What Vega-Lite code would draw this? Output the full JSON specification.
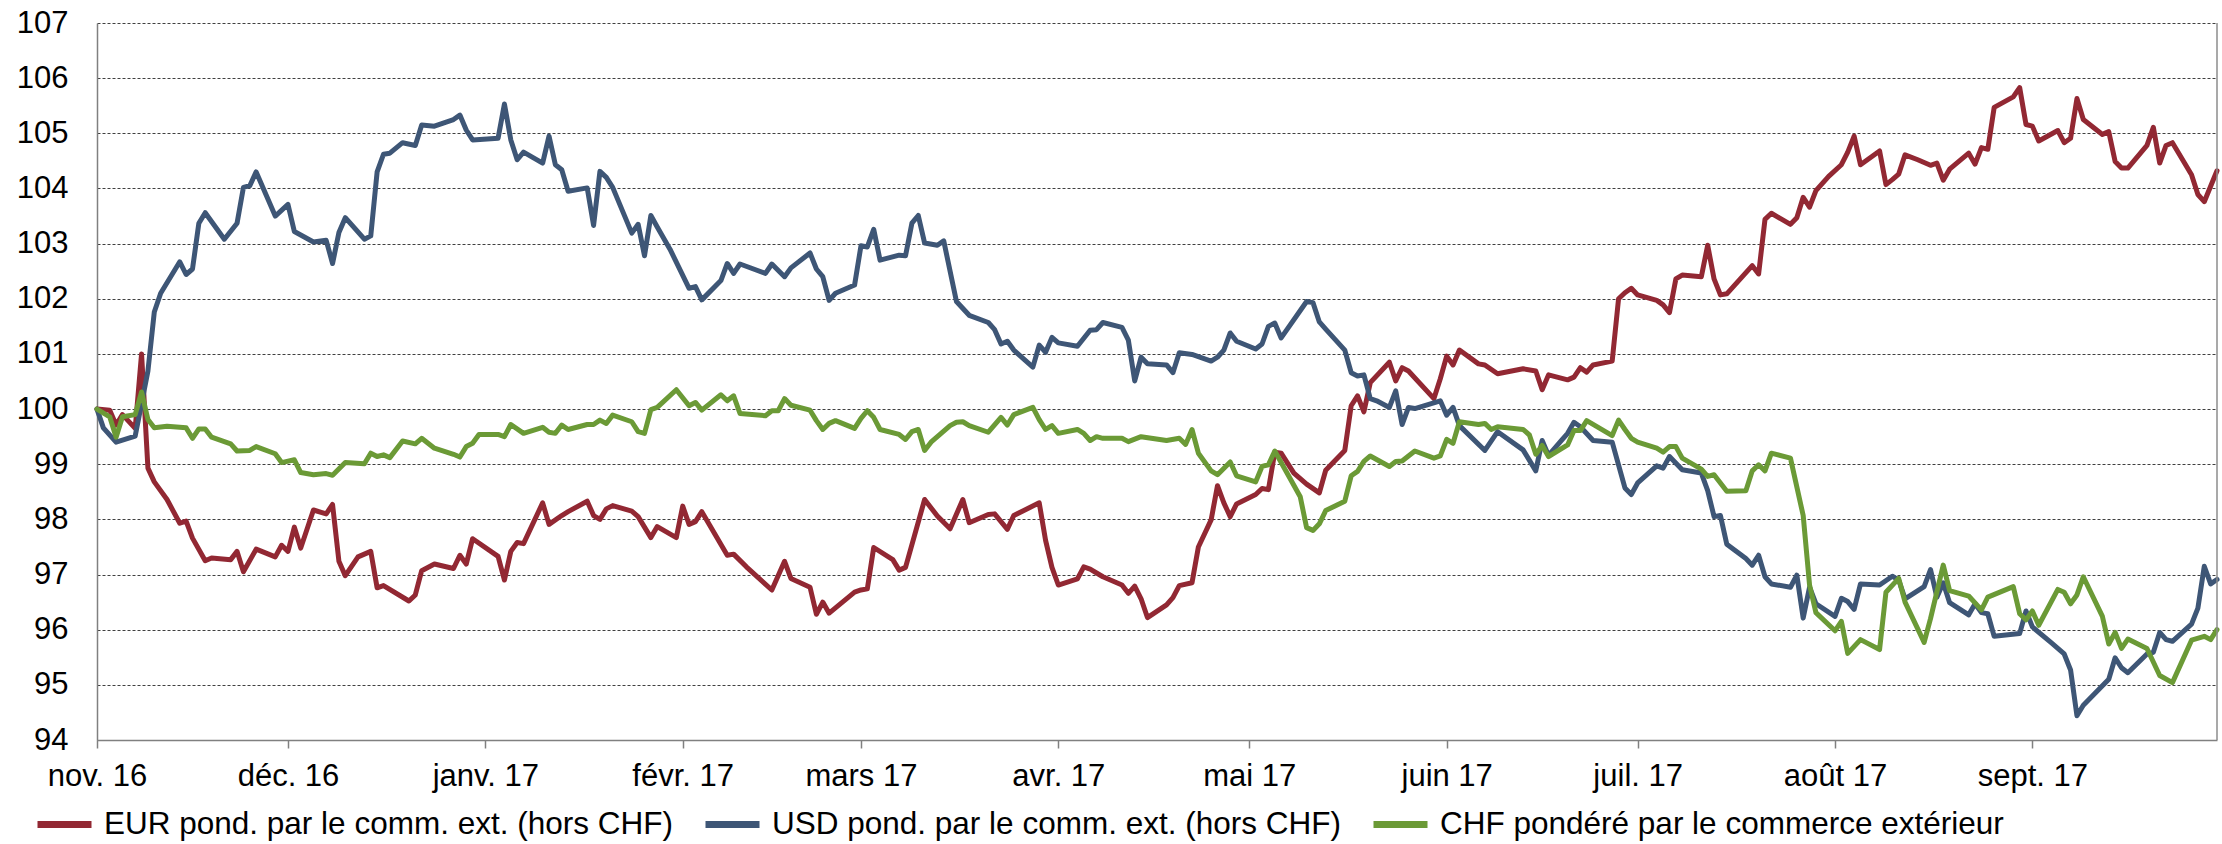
{
"$schema":"https://vega.github.io/schema/vega-lite/v6.json",
"width":2120,"height":717,
"autosize":{"type":"none"},
"padding":{"left":97,"top":23,"right":5,"bottom":104},
"background":"white",
"config":{"view":{"stroke":null},"font":"Liberation Sans"},
"datasets":{"series":[
{"d":"2016-11-01","s":"EUR","v":100},{"d":"2016-11-03","s":"EUR","v":99.98},{"d":"2016-11-04","s":"EUR","v":99.71},{"d":"2016-11-05","s":"EUR","v":99.9},{"d":"2016-11-07","s":"EUR","v":99.65},{"d":"2016-11-08","s":"EUR","v":101.0},{"d":"2016-11-09","s":"EUR","v":98.93},{"d":"2016-11-10","s":"EUR","v":98.68},{"d":"2016-11-12","s":"EUR","v":98.36},{"d":"2016-11-14","s":"EUR","v":97.93},{"d":"2016-11-15","s":"EUR","v":97.97},{"d":"2016-11-16","s":"EUR","v":97.66},{"d":"2016-11-18","s":"EUR","v":97.25},{"d":"2016-11-19","s":"EUR","v":97.3},{"d":"2016-11-22","s":"EUR","v":97.27},{"d":"2016-11-23","s":"EUR","v":97.42},{"d":"2016-11-24","s":"EUR","v":97.05},{"d":"2016-11-26","s":"EUR","v":97.46},{"d":"2016-11-29","s":"EUR","v":97.32},{"d":"2016-11-30","s":"EUR","v":97.53},{"d":"2016-12-01","s":"EUR","v":97.42},{"d":"2016-12-02","s":"EUR","v":97.86},{"d":"2016-12-03","s":"EUR","v":97.48},{"d":"2016-12-05","s":"EUR","v":98.17},{"d":"2016-12-07","s":"EUR","v":98.1},{"d":"2016-12-08","s":"EUR","v":98.27},{"d":"2016-12-09","s":"EUR","v":97.24},{"d":"2016-12-10","s":"EUR","v":96.98},{"d":"2016-12-12","s":"EUR","v":97.32},{"d":"2016-12-14","s":"EUR","v":97.42},{"d":"2016-12-15","s":"EUR","v":96.76},{"d":"2016-12-16","s":"EUR","v":96.8},{"d":"2016-12-20","s":"EUR","v":96.52},{"d":"2016-12-21","s":"EUR","v":96.63},{"d":"2016-12-22","s":"EUR","v":97.07},{"d":"2016-12-24","s":"EUR","v":97.19},{"d":"2016-12-27","s":"EUR","v":97.11},{"d":"2016-12-28","s":"EUR","v":97.35},{"d":"2016-12-29","s":"EUR","v":97.19},{"d":"2016-12-30","s":"EUR","v":97.65},{"d":"2017-01-03","s":"EUR","v":97.33},{"d":"2017-01-04","s":"EUR","v":96.9},{"d":"2017-01-05","s":"EUR","v":97.42},{"d":"2017-01-06","s":"EUR","v":97.58},{"d":"2017-01-07","s":"EUR","v":97.56},{"d":"2017-01-10","s":"EUR","v":98.3},{"d":"2017-01-11","s":"EUR","v":97.91},{"d":"2017-01-13","s":"EUR","v":98.07},{"d":"2017-01-14","s":"EUR","v":98.14},{"d":"2017-01-17","s":"EUR","v":98.33},{"d":"2017-01-18","s":"EUR","v":98.07},{"d":"2017-01-19","s":"EUR","v":98.0},{"d":"2017-01-20","s":"EUR","v":98.19},{"d":"2017-01-21","s":"EUR","v":98.25},{"d":"2017-01-24","s":"EUR","v":98.15},{"d":"2017-01-25","s":"EUR","v":98.05},{"d":"2017-01-27","s":"EUR","v":97.67},{"d":"2017-01-28","s":"EUR","v":97.87},{"d":"2017-01-31","s":"EUR","v":97.67},{"d":"2017-02-01","s":"EUR","v":98.24},{"d":"2017-02-02","s":"EUR","v":97.91},{"d":"2017-02-03","s":"EUR","v":97.96},{"d":"2017-02-04","s":"EUR","v":98.14},{"d":"2017-02-08","s":"EUR","v":97.35},{"d":"2017-02-09","s":"EUR","v":97.37},{"d":"2017-02-11","s":"EUR","v":97.14},{"d":"2017-02-15","s":"EUR","v":96.72},{"d":"2017-02-17","s":"EUR","v":97.24},{"d":"2017-02-18","s":"EUR","v":96.93},{"d":"2017-02-21","s":"EUR","v":96.77},{"d":"2017-02-22","s":"EUR","v":96.28},{"d":"2017-02-23","s":"EUR","v":96.5},{"d":"2017-02-24","s":"EUR","v":96.3},{"d":"2017-02-28","s":"EUR","v":96.68},{"d":"2017-03-01","s":"EUR","v":96.72},{"d":"2017-03-02","s":"EUR","v":96.74},{"d":"2017-03-03","s":"EUR","v":97.49},{"d":"2017-03-06","s":"EUR","v":97.27},{"d":"2017-03-07","s":"EUR","v":97.08},{"d":"2017-03-08","s":"EUR","v":97.13},{"d":"2017-03-11","s":"EUR","v":98.36},{"d":"2017-03-13","s":"EUR","v":98.06},{"d":"2017-03-15","s":"EUR","v":97.83},{"d":"2017-03-17","s":"EUR","v":98.36},{"d":"2017-03-18","s":"EUR","v":97.94},{"d":"2017-03-21","s":"EUR","v":98.09},{"d":"2017-03-22","s":"EUR","v":98.1},{"d":"2017-03-24","s":"EUR","v":97.82},{"d":"2017-03-25","s":"EUR","v":98.07},{"d":"2017-03-29","s":"EUR","v":98.3},{"d":"2017-03-30","s":"EUR","v":97.62},{"d":"2017-03-31","s":"EUR","v":97.13},{"d":"2017-04-01","s":"EUR","v":96.81},{"d":"2017-04-04","s":"EUR","v":96.92},{"d":"2017-04-05","s":"EUR","v":97.14},{"d":"2017-04-06","s":"EUR","v":97.1},{"d":"2017-04-08","s":"EUR","v":96.96},{"d":"2017-04-11","s":"EUR","v":96.81},{"d":"2017-04-12","s":"EUR","v":96.66},{"d":"2017-04-13","s":"EUR","v":96.79},{"d":"2017-04-14","s":"EUR","v":96.56},{"d":"2017-04-15","s":"EUR","v":96.22},{"d":"2017-04-18","s":"EUR","v":96.45},{"d":"2017-04-19","s":"EUR","v":96.58},{"d":"2017-04-20","s":"EUR","v":96.8},{"d":"2017-04-22","s":"EUR","v":96.85},{"d":"2017-04-23","s":"EUR","v":97.5},{"d":"2017-04-25","s":"EUR","v":97.99},{"d":"2017-04-26","s":"EUR","v":98.61},{"d":"2017-04-27","s":"EUR","v":98.3},{"d":"2017-04-28","s":"EUR","v":98.05},{"d":"2017-04-29","s":"EUR","v":98.28},{"d":"2017-05-02","s":"EUR","v":98.45},{"d":"2017-05-03","s":"EUR","v":98.56},{"d":"2017-05-04","s":"EUR","v":98.54},{"d":"2017-05-05","s":"EUR","v":99.22},{"d":"2017-05-06","s":"EUR","v":99.2},{"d":"2017-05-08","s":"EUR","v":98.84},{"d":"2017-05-10","s":"EUR","v":98.64},{"d":"2017-05-12","s":"EUR","v":98.48},{"d":"2017-05-13","s":"EUR","v":98.89},{"d":"2017-05-16","s":"EUR","v":99.25},{"d":"2017-05-17","s":"EUR","v":100.06},{"d":"2017-05-18","s":"EUR","v":100.24},{"d":"2017-05-19","s":"EUR","v":99.95},{"d":"2017-05-20","s":"EUR","v":100.48},{"d":"2017-05-23","s":"EUR","v":100.85},{"d":"2017-05-24","s":"EUR","v":100.51},{"d":"2017-05-25","s":"EUR","v":100.75},{"d":"2017-05-26","s":"EUR","v":100.69},{"d":"2017-05-30","s":"EUR","v":100.19},{"d":"2017-05-31","s":"EUR","v":100.55},{"d":"2017-06-01","s":"EUR","v":100.96},{"d":"2017-06-02","s":"EUR","v":100.8},{"d":"2017-06-03","s":"EUR","v":101.07},{"d":"2017-06-06","s":"EUR","v":100.82},{"d":"2017-06-07","s":"EUR","v":100.8},{"d":"2017-06-09","s":"EUR","v":100.64},{"d":"2017-06-13","s":"EUR","v":100.73},{"d":"2017-06-15","s":"EUR","v":100.69},{"d":"2017-06-16","s":"EUR","v":100.35},{"d":"2017-06-17","s":"EUR","v":100.62},{"d":"2017-06-20","s":"EUR","v":100.53},{"d":"2017-06-21","s":"EUR","v":100.58},{"d":"2017-06-22","s":"EUR","v":100.75},{"d":"2017-06-23","s":"EUR","v":100.67},{"d":"2017-06-24","s":"EUR","v":100.8},{"d":"2017-06-27","s":"EUR","v":100.87},{"d":"2017-06-28","s":"EUR","v":102.0},{"d":"2017-06-29","s":"EUR","v":102.11},{"d":"2017-06-30","s":"EUR","v":102.19},{"d":"2017-07-01","s":"EUR","v":102.07},{"d":"2017-07-04","s":"EUR","v":101.97},{"d":"2017-07-05","s":"EUR","v":101.89},{"d":"2017-07-06","s":"EUR","v":101.75},{"d":"2017-07-07","s":"EUR","v":102.36},{"d":"2017-07-08","s":"EUR","v":102.43},{"d":"2017-07-11","s":"EUR","v":102.4},{"d":"2017-07-12","s":"EUR","v":102.97},{"d":"2017-07-13","s":"EUR","v":102.36},{"d":"2017-07-14","s":"EUR","v":102.07},{"d":"2017-07-15","s":"EUR","v":102.09},{"d":"2017-07-19","s":"EUR","v":102.6},{"d":"2017-07-20","s":"EUR","v":102.45},{"d":"2017-07-21","s":"EUR","v":103.44},{"d":"2017-07-22","s":"EUR","v":103.55},{"d":"2017-07-25","s":"EUR","v":103.35},{"d":"2017-07-26","s":"EUR","v":103.47},{"d":"2017-07-27","s":"EUR","v":103.84},{"d":"2017-07-28","s":"EUR","v":103.66},{"d":"2017-07-29","s":"EUR","v":103.96},{"d":"2017-07-31","s":"EUR","v":104.22},{"d":"2017-08-02","s":"EUR","v":104.43},{"d":"2017-08-03","s":"EUR","v":104.66},{"d":"2017-08-04","s":"EUR","v":104.95},{"d":"2017-08-05","s":"EUR","v":104.43},{"d":"2017-08-08","s":"EUR","v":104.68},{"d":"2017-08-09","s":"EUR","v":104.07},{"d":"2017-08-10","s":"EUR","v":104.16},{"d":"2017-08-11","s":"EUR","v":104.26},{"d":"2017-08-12","s":"EUR","v":104.61},{"d":"2017-08-14","s":"EUR","v":104.52},{"d":"2017-08-16","s":"EUR","v":104.42},{"d":"2017-08-17","s":"EUR","v":104.46},{"d":"2017-08-18","s":"EUR","v":104.15},{"d":"2017-08-19","s":"EUR","v":104.35},{"d":"2017-08-22","s":"EUR","v":104.64},{"d":"2017-08-23","s":"EUR","v":104.44},{"d":"2017-08-24","s":"EUR","v":104.74},{"d":"2017-08-25","s":"EUR","v":104.71},{"d":"2017-08-26","s":"EUR","v":105.47},{"d":"2017-08-29","s":"EUR","v":105.66},{"d":"2017-08-30","s":"EUR","v":105.83},{"d":"2017-08-31","s":"EUR","v":105.16},{"d":"2017-09-01","s":"EUR","v":105.13},{"d":"2017-09-02","s":"EUR","v":104.86},{"d":"2017-09-05","s":"EUR","v":105.05},{"d":"2017-09-06","s":"EUR","v":104.83},{"d":"2017-09-07","s":"EUR","v":104.91},{"d":"2017-09-08","s":"EUR","v":105.63},{"d":"2017-09-09","s":"EUR","v":105.25},{"d":"2017-09-12","s":"EUR","v":104.98},{"d":"2017-09-13","s":"EUR","v":105.03},{"d":"2017-09-14","s":"EUR","v":104.49},{"d":"2017-09-15","s":"EUR","v":104.37},{"d":"2017-09-16","s":"EUR","v":104.37},{"d":"2017-09-19","s":"EUR","v":104.78},{"d":"2017-09-20","s":"EUR","v":105.11},{"d":"2017-09-21","s":"EUR","v":104.46},{"d":"2017-09-22","s":"EUR","v":104.78},{"d":"2017-09-23","s":"EUR","v":104.83},{"d":"2017-09-26","s":"EUR","v":104.25},{"d":"2017-09-27","s":"EUR","v":103.89},{"d":"2017-09-28","s":"EUR","v":103.76},{"d":"2017-09-30","s":"EUR","v":104.32},
{"d":"2016-11-01","s":"USD","v":100},{"d":"2016-11-02","s":"USD","v":99.66},{"d":"2016-11-04","s":"USD","v":99.4},{"d":"2016-11-07","s":"USD","v":99.51},{"d":"2016-11-08","s":"USD","v":100.1},{"d":"2016-11-09","s":"USD","v":100.69},{"d":"2016-11-10","s":"USD","v":101.76},{"d":"2016-11-11","s":"USD","v":102.1},{"d":"2016-11-14","s":"USD","v":102.67},{"d":"2016-11-15","s":"USD","v":102.44},{"d":"2016-11-16","s":"USD","v":102.54},{"d":"2016-11-17","s":"USD","v":103.37},{"d":"2016-11-18","s":"USD","v":103.56},{"d":"2016-11-21","s":"USD","v":103.08},{"d":"2016-11-23","s":"USD","v":103.37},{"d":"2016-11-24","s":"USD","v":104.02},{"d":"2016-11-25","s":"USD","v":104.05},{"d":"2016-11-26","s":"USD","v":104.3},{"d":"2016-11-29","s":"USD","v":103.5},{"d":"2016-12-01","s":"USD","v":103.71},{"d":"2016-12-02","s":"USD","v":103.22},{"d":"2016-12-05","s":"USD","v":103.03},{"d":"2016-12-07","s":"USD","v":103.06},{"d":"2016-12-08","s":"USD","v":102.64},{"d":"2016-12-09","s":"USD","v":103.2},{"d":"2016-12-10","s":"USD","v":103.47},{"d":"2016-12-13","s":"USD","v":103.08},{"d":"2016-12-14","s":"USD","v":103.14},{"d":"2016-12-15","s":"USD","v":104.3},{"d":"2016-12-16","s":"USD","v":104.62},{"d":"2016-12-17","s":"USD","v":104.64},{"d":"2016-12-19","s":"USD","v":104.83},{"d":"2016-12-21","s":"USD","v":104.78},{"d":"2016-12-22","s":"USD","v":105.15},{"d":"2016-12-24","s":"USD","v":105.13},{"d":"2016-12-27","s":"USD","v":105.25},{"d":"2016-12-28","s":"USD","v":105.33},{"d":"2016-12-29","s":"USD","v":105.06},{"d":"2016-12-30","s":"USD","v":104.88},{"d":"2017-01-03","s":"USD","v":104.91},{"d":"2017-01-04","s":"USD","v":105.53},{"d":"2017-01-05","s":"USD","v":104.88},{"d":"2017-01-06","s":"USD","v":104.52},{"d":"2017-01-07","s":"USD","v":104.66},{"d":"2017-01-10","s":"USD","v":104.46},{"d":"2017-01-11","s":"USD","v":104.95},{"d":"2017-01-12","s":"USD","v":104.43},{"d":"2017-01-13","s":"USD","v":104.34},{"d":"2017-01-14","s":"USD","v":103.95},{"d":"2017-01-17","s":"USD","v":104.01},{"d":"2017-01-18","s":"USD","v":103.33},{"d":"2017-01-19","s":"USD","v":104.31},{"d":"2017-01-20","s":"USD","v":104.2},{"d":"2017-01-21","s":"USD","v":104.02},{"d":"2017-01-24","s":"USD","v":103.19},{"d":"2017-01-25","s":"USD","v":103.35},{"d":"2017-01-26","s":"USD","v":102.78},{"d":"2017-01-27","s":"USD","v":103.51},{"d":"2017-01-28","s":"USD","v":103.3},{"d":"2017-01-30","s":"USD","v":102.9},{"d":"2017-02-02","s":"USD","v":102.19},{"d":"2017-02-03","s":"USD","v":102.22},{"d":"2017-02-04","s":"USD","v":101.98},{"d":"2017-02-07","s":"USD","v":102.33},{"d":"2017-02-08","s":"USD","v":102.64},{"d":"2017-02-09","s":"USD","v":102.46},{"d":"2017-02-10","s":"USD","v":102.63},{"d":"2017-02-14","s":"USD","v":102.46},{"d":"2017-02-15","s":"USD","v":102.63},{"d":"2017-02-17","s":"USD","v":102.4},{"d":"2017-02-18","s":"USD","v":102.56},{"d":"2017-02-21","s":"USD","v":102.83},{"d":"2017-02-22","s":"USD","v":102.54},{"d":"2017-02-23","s":"USD","v":102.4},{"d":"2017-02-24","s":"USD","v":101.97},{"d":"2017-02-25","s":"USD","v":102.1},{"d":"2017-02-28","s":"USD","v":102.25},{"d":"2017-03-01","s":"USD","v":102.96},{"d":"2017-03-02","s":"USD","v":102.94},{"d":"2017-03-03","s":"USD","v":103.26},{"d":"2017-03-04","s":"USD","v":102.7},{"d":"2017-03-07","s":"USD","v":102.79},{"d":"2017-03-08","s":"USD","v":102.78},{"d":"2017-03-09","s":"USD","v":103.37},{"d":"2017-03-10","s":"USD","v":103.51},{"d":"2017-03-11","s":"USD","v":103.01},{"d":"2017-03-13","s":"USD","v":102.97},{"d":"2017-03-14","s":"USD","v":103.05},{"d":"2017-03-16","s":"USD","v":101.95},{"d":"2017-03-18","s":"USD","v":101.7},{"d":"2017-03-21","s":"USD","v":101.57},{"d":"2017-03-22","s":"USD","v":101.44},{"d":"2017-03-23","s":"USD","v":101.18},{"d":"2017-03-24","s":"USD","v":101.23},{"d":"2017-03-25","s":"USD","v":101.07},{"d":"2017-03-28","s":"USD","v":100.76},{"d":"2017-03-29","s":"USD","v":101.16},{"d":"2017-03-30","s":"USD","v":101.03},{"d":"2017-03-31","s":"USD","v":101.3},{"d":"2017-04-01","s":"USD","v":101.2},{"d":"2017-04-04","s":"USD","v":101.14},{"d":"2017-04-06","s":"USD","v":101.43},{"d":"2017-04-07","s":"USD","v":101.44},{"d":"2017-04-08","s":"USD","v":101.57},{"d":"2017-04-11","s":"USD","v":101.48},{"d":"2017-04-12","s":"USD","v":101.25},{"d":"2017-04-13","s":"USD","v":100.51},{"d":"2017-04-14","s":"USD","v":100.94},{"d":"2017-04-15","s":"USD","v":100.82},{"d":"2017-04-18","s":"USD","v":100.8},{"d":"2017-04-19","s":"USD","v":100.66},{"d":"2017-04-20","s":"USD","v":101.02},{"d":"2017-04-22","s":"USD","v":100.99},{"d":"2017-04-25","s":"USD","v":100.87},{"d":"2017-04-26","s":"USD","v":100.94},{"d":"2017-04-27","s":"USD","v":101.07},{"d":"2017-04-28","s":"USD","v":101.38},{"d":"2017-04-29","s":"USD","v":101.23},{"d":"2017-05-02","s":"USD","v":101.09},{"d":"2017-05-03","s":"USD","v":101.18},{"d":"2017-05-04","s":"USD","v":101.5},{"d":"2017-05-05","s":"USD","v":101.56},{"d":"2017-05-06","s":"USD","v":101.29},{"d":"2017-05-10","s":"USD","v":101.95},{"d":"2017-05-11","s":"USD","v":101.93},{"d":"2017-05-12","s":"USD","v":101.58},{"d":"2017-05-13","s":"USD","v":101.45},{"d":"2017-05-16","s":"USD","v":101.07},{"d":"2017-05-17","s":"USD","v":100.66},{"d":"2017-05-18","s":"USD","v":100.6},{"d":"2017-05-19","s":"USD","v":100.62},{"d":"2017-05-20","s":"USD","v":100.19},{"d":"2017-05-21","s":"USD","v":100.15},{"d":"2017-05-23","s":"USD","v":100.03},{"d":"2017-05-24","s":"USD","v":100.33},{"d":"2017-05-25","s":"USD","v":99.72},{"d":"2017-05-26","s":"USD","v":100.03},{"d":"2017-05-27","s":"USD","v":100.01},{"d":"2017-05-31","s":"USD","v":100.15},{"d":"2017-06-01","s":"USD","v":99.89},{"d":"2017-06-02","s":"USD","v":100.03},{"d":"2017-06-03","s":"USD","v":99.7},{"d":"2017-06-07","s":"USD","v":99.25},{"d":"2017-06-09","s":"USD","v":99.59},{"d":"2017-06-13","s":"USD","v":99.26},{"d":"2017-06-15","s":"USD","v":98.88},{"d":"2017-06-16","s":"USD","v":99.43},{"d":"2017-06-17","s":"USD","v":99.16},{"d":"2017-06-19","s":"USD","v":99.43},{"d":"2017-06-20","s":"USD","v":99.56},{"d":"2017-06-21","s":"USD","v":99.76},{"d":"2017-06-22","s":"USD","v":99.68},{"d":"2017-06-24","s":"USD","v":99.43},{"d":"2017-06-27","s":"USD","v":99.4},{"d":"2017-06-29","s":"USD","v":98.57},{"d":"2017-06-30","s":"USD","v":98.45},{"d":"2017-07-01","s":"USD","v":98.66},{"d":"2017-07-04","s":"USD","v":98.97},{"d":"2017-07-05","s":"USD","v":98.93},{"d":"2017-07-06","s":"USD","v":99.14},{"d":"2017-07-08","s":"USD","v":98.9},{"d":"2017-07-11","s":"USD","v":98.84},{"d":"2017-07-12","s":"USD","v":98.52},{"d":"2017-07-13","s":"USD","v":98.05},{"d":"2017-07-14","s":"USD","v":98.07},{"d":"2017-07-15","s":"USD","v":97.55},{"d":"2017-07-18","s":"USD","v":97.29},{"d":"2017-07-19","s":"USD","v":97.17},{"d":"2017-07-20","s":"USD","v":97.35},{"d":"2017-07-21","s":"USD","v":96.96},{"d":"2017-07-22","s":"USD","v":96.83},{"d":"2017-07-25","s":"USD","v":96.77},{"d":"2017-07-26","s":"USD","v":96.99},{"d":"2017-07-27","s":"USD","v":96.21},{"d":"2017-07-28","s":"USD","v":96.77},{"d":"2017-07-29","s":"USD","v":96.47},{"d":"2017-08-01","s":"USD","v":96.24},{"d":"2017-08-02","s":"USD","v":96.57},{"d":"2017-08-03","s":"USD","v":96.51},{"d":"2017-08-04","s":"USD","v":96.37},{"d":"2017-08-05","s":"USD","v":96.83},{"d":"2017-08-08","s":"USD","v":96.81},{"d":"2017-08-10","s":"USD","v":96.97},{"d":"2017-08-11","s":"USD","v":96.9},{"d":"2017-08-12","s":"USD","v":96.56},{"d":"2017-08-15","s":"USD","v":96.78},{"d":"2017-08-16","s":"USD","v":97.09},{"d":"2017-08-17","s":"USD","v":96.59},{"d":"2017-08-18","s":"USD","v":96.85},{"d":"2017-08-19","s":"USD","v":96.49},{"d":"2017-08-22","s":"USD","v":96.27},{"d":"2017-08-23","s":"USD","v":96.47},{"d":"2017-08-24","s":"USD","v":96.31},{"d":"2017-08-25","s":"USD","v":96.29},{"d":"2017-08-26","s":"USD","v":95.88},{"d":"2017-08-30","s":"USD","v":95.93},{"d":"2017-08-31","s":"USD","v":96.34},{"d":"2017-09-01","s":"USD","v":96.05},{"d":"2017-09-04","s":"USD","v":95.76},{"d":"2017-09-06","s":"USD","v":95.56},{"d":"2017-09-07","s":"USD","v":95.27},{"d":"2017-09-08","s":"USD","v":94.44},{"d":"2017-09-09","s":"USD","v":94.63},{"d":"2017-09-13","s":"USD","v":95.1},{"d":"2017-09-14","s":"USD","v":95.49},{"d":"2017-09-15","s":"USD","v":95.31},{"d":"2017-09-16","s":"USD","v":95.22},{"d":"2017-09-19","s":"USD","v":95.56},{"d":"2017-09-20","s":"USD","v":95.59},{"d":"2017-09-21","s":"USD","v":95.95},{"d":"2017-09-22","s":"USD","v":95.82},{"d":"2017-09-23","s":"USD","v":95.79},{"d":"2017-09-26","s":"USD","v":96.1},{"d":"2017-09-27","s":"USD","v":96.39},{"d":"2017-09-28","s":"USD","v":97.15},{"d":"2017-09-29","s":"USD","v":96.83},{"d":"2017-09-30","s":"USD","v":96.91},
{"d":"2016-11-01","s":"CHF","v":100},{"d":"2016-11-03","s":"CHF","v":99.86},{"d":"2016-11-04","s":"CHF","v":99.49},{"d":"2016-11-05","s":"CHF","v":99.86},{"d":"2016-11-07","s":"CHF","v":99.9},{"d":"2016-11-08","s":"CHF","v":100.31},{"d":"2016-11-09","s":"CHF","v":99.81},{"d":"2016-11-10","s":"CHF","v":99.66},{"d":"2016-11-12","s":"CHF","v":99.69},{"d":"2016-11-15","s":"CHF","v":99.66},{"d":"2016-11-16","s":"CHF","v":99.47},{"d":"2016-11-17","s":"CHF","v":99.64},{"d":"2016-11-18","s":"CHF","v":99.64},{"d":"2016-11-19","s":"CHF","v":99.49},{"d":"2016-11-22","s":"CHF","v":99.37},{"d":"2016-11-23","s":"CHF","v":99.24},{"d":"2016-11-25","s":"CHF","v":99.25},{"d":"2016-11-26","s":"CHF","v":99.32},{"d":"2016-11-29","s":"CHF","v":99.19},{"d":"2016-11-30","s":"CHF","v":99.03},{"d":"2016-12-02","s":"CHF","v":99.08},{"d":"2016-12-03","s":"CHF","v":98.85},{"d":"2016-12-05","s":"CHF","v":98.81},{"d":"2016-12-07","s":"CHF","v":98.83},{"d":"2016-12-08","s":"CHF","v":98.8},{"d":"2016-12-10","s":"CHF","v":99.03},{"d":"2016-12-13","s":"CHF","v":99.01},{"d":"2016-12-14","s":"CHF","v":99.2},{"d":"2016-12-15","s":"CHF","v":99.14},{"d":"2016-12-16","s":"CHF","v":99.17},{"d":"2016-12-17","s":"CHF","v":99.12},{"d":"2016-12-19","s":"CHF","v":99.42},{"d":"2016-12-21","s":"CHF","v":99.37},{"d":"2016-12-22","s":"CHF","v":99.47},{"d":"2016-12-24","s":"CHF","v":99.29},{"d":"2016-12-27","s":"CHF","v":99.18},{"d":"2016-12-28","s":"CHF","v":99.13},{"d":"2016-12-29","s":"CHF","v":99.32},{"d":"2016-12-30","s":"CHF","v":99.38},{"d":"2016-12-31","s":"CHF","v":99.54},{"d":"2017-01-03","s":"CHF","v":99.54},{"d":"2017-01-04","s":"CHF","v":99.5},{"d":"2017-01-05","s":"CHF","v":99.72},{"d":"2017-01-07","s":"CHF","v":99.56},{"d":"2017-01-10","s":"CHF","v":99.67},{"d":"2017-01-11","s":"CHF","v":99.58},{"d":"2017-01-12","s":"CHF","v":99.56},{"d":"2017-01-13","s":"CHF","v":99.71},{"d":"2017-01-14","s":"CHF","v":99.63},{"d":"2017-01-17","s":"CHF","v":99.72},{"d":"2017-01-18","s":"CHF","v":99.72},{"d":"2017-01-19","s":"CHF","v":99.8},{"d":"2017-01-20","s":"CHF","v":99.74},{"d":"2017-01-21","s":"CHF","v":99.89},{"d":"2017-01-24","s":"CHF","v":99.77},{"d":"2017-01-25","s":"CHF","v":99.59},{"d":"2017-01-26","s":"CHF","v":99.56},{"d":"2017-01-27","s":"CHF","v":99.99},{"d":"2017-01-28","s":"CHF","v":100.03},{"d":"2017-01-31","s":"CHF","v":100.35},{"d":"2017-02-02","s":"CHF","v":100.06},{"d":"2017-02-03","s":"CHF","v":100.12},{"d":"2017-02-04","s":"CHF","v":99.98},{"d":"2017-02-07","s":"CHF","v":100.26},{"d":"2017-02-08","s":"CHF","v":100.15},{"d":"2017-02-09","s":"CHF","v":100.24},{"d":"2017-02-10","s":"CHF","v":99.92},{"d":"2017-02-14","s":"CHF","v":99.88},{"d":"2017-02-15","s":"CHF","v":99.97},{"d":"2017-02-16","s":"CHF","v":99.97},{"d":"2017-02-17","s":"CHF","v":100.19},{"d":"2017-02-18","s":"CHF","v":100.07},{"d":"2017-02-21","s":"CHF","v":99.98},{"d":"2017-02-22","s":"CHF","v":99.79},{"d":"2017-02-23","s":"CHF","v":99.63},{"d":"2017-02-24","s":"CHF","v":99.74},{"d":"2017-02-25","s":"CHF","v":99.79},{"d":"2017-02-28","s":"CHF","v":99.65},{"d":"2017-03-01","s":"CHF","v":99.83},{"d":"2017-03-02","s":"CHF","v":99.97},{"d":"2017-03-03","s":"CHF","v":99.85},{"d":"2017-03-04","s":"CHF","v":99.63},{"d":"2017-03-07","s":"CHF","v":99.54},{"d":"2017-03-08","s":"CHF","v":99.45},{"d":"2017-03-09","s":"CHF","v":99.59},{"d":"2017-03-10","s":"CHF","v":99.63},{"d":"2017-03-11","s":"CHF","v":99.25},{"d":"2017-03-12","s":"CHF","v":99.4},{"d":"2017-03-15","s":"CHF","v":99.7},{"d":"2017-03-16","s":"CHF","v":99.76},{"d":"2017-03-17","s":"CHF","v":99.77},{"d":"2017-03-18","s":"CHF","v":99.7},{"d":"2017-03-21","s":"CHF","v":99.58},{"d":"2017-03-23","s":"CHF","v":99.85},{"d":"2017-03-24","s":"CHF","v":99.71},{"d":"2017-03-25","s":"CHF","v":99.9},{"d":"2017-03-28","s":"CHF","v":100.03},{"d":"2017-03-29","s":"CHF","v":99.81},{"d":"2017-03-30","s":"CHF","v":99.63},{"d":"2017-03-31","s":"CHF","v":99.7},{"d":"2017-04-01","s":"CHF","v":99.56},{"d":"2017-04-04","s":"CHF","v":99.63},{"d":"2017-04-05","s":"CHF","v":99.56},{"d":"2017-04-06","s":"CHF","v":99.43},{"d":"2017-04-07","s":"CHF","v":99.5},{"d":"2017-04-08","s":"CHF","v":99.47},{"d":"2017-04-11","s":"CHF","v":99.47},{"d":"2017-04-12","s":"CHF","v":99.41},{"d":"2017-04-14","s":"CHF","v":99.5},{"d":"2017-04-18","s":"CHF","v":99.43},{"d":"2017-04-20","s":"CHF","v":99.47},{"d":"2017-04-21","s":"CHF","v":99.36},{"d":"2017-04-22","s":"CHF","v":99.63},{"d":"2017-04-23","s":"CHF","v":99.2},{"d":"2017-04-25","s":"CHF","v":98.88},{"d":"2017-04-26","s":"CHF","v":98.81},{"d":"2017-04-28","s":"CHF","v":99.04},{"d":"2017-04-29","s":"CHF","v":98.79},{"d":"2017-05-02","s":"CHF","v":98.68},{"d":"2017-05-03","s":"CHF","v":98.96},{"d":"2017-05-04","s":"CHF","v":98.99},{"d":"2017-05-05","s":"CHF","v":99.24},{"d":"2017-05-09","s":"CHF","v":98.41},{"d":"2017-05-10","s":"CHF","v":97.85},{"d":"2017-05-11","s":"CHF","v":97.8},{"d":"2017-05-12","s":"CHF","v":97.92},{"d":"2017-05-13","s":"CHF","v":98.16},{"d":"2017-05-16","s":"CHF","v":98.33},{"d":"2017-05-17","s":"CHF","v":98.79},{"d":"2017-05-18","s":"CHF","v":98.87},{"d":"2017-05-19","s":"CHF","v":99.05},{"d":"2017-05-20","s":"CHF","v":99.15},{"d":"2017-05-23","s":"CHF","v":98.96},{"d":"2017-05-24","s":"CHF","v":99.05},{"d":"2017-05-25","s":"CHF","v":99.06},{"d":"2017-05-27","s":"CHF","v":99.24},{"d":"2017-05-30","s":"CHF","v":99.11},{"d":"2017-05-31","s":"CHF","v":99.15},{"d":"2017-06-01","s":"CHF","v":99.45},{"d":"2017-06-02","s":"CHF","v":99.38},{"d":"2017-06-03","s":"CHF","v":99.77},{"d":"2017-06-06","s":"CHF","v":99.72},{"d":"2017-06-07","s":"CHF","v":99.74},{"d":"2017-06-08","s":"CHF","v":99.63},{"d":"2017-06-09","s":"CHF","v":99.68},{"d":"2017-06-13","s":"CHF","v":99.63},{"d":"2017-06-14","s":"CHF","v":99.53},{"d":"2017-06-15","s":"CHF","v":99.18},{"d":"2017-06-16","s":"CHF","v":99.34},{"d":"2017-06-17","s":"CHF","v":99.14},{"d":"2017-06-20","s":"CHF","v":99.35},{"d":"2017-06-21","s":"CHF","v":99.61},{"d":"2017-06-22","s":"CHF","v":99.61},{"d":"2017-06-23","s":"CHF","v":99.79},{"d":"2017-06-27","s":"CHF","v":99.52},{"d":"2017-06-28","s":"CHF","v":99.8},{"d":"2017-06-29","s":"CHF","v":99.63},{"d":"2017-06-30","s":"CHF","v":99.47},{"d":"2017-07-01","s":"CHF","v":99.4},{"d":"2017-07-04","s":"CHF","v":99.29},{"d":"2017-07-05","s":"CHF","v":99.22},{"d":"2017-07-06","s":"CHF","v":99.32},{"d":"2017-07-07","s":"CHF","v":99.32},{"d":"2017-07-08","s":"CHF","v":99.11},{"d":"2017-07-11","s":"CHF","v":98.91},{"d":"2017-07-12","s":"CHF","v":98.78},{"d":"2017-07-13","s":"CHF","v":98.81},{"d":"2017-07-15","s":"CHF","v":98.51},{"d":"2017-07-18","s":"CHF","v":98.52},{"d":"2017-07-19","s":"CHF","v":98.88},{"d":"2017-07-20","s":"CHF","v":98.99},{"d":"2017-07-21","s":"CHF","v":98.88},{"d":"2017-07-22","s":"CHF","v":99.2},{"d":"2017-07-25","s":"CHF","v":99.11},{"d":"2017-07-27","s":"CHF","v":98.07},{"d":"2017-07-28","s":"CHF","v":96.81},{"d":"2017-07-29","s":"CHF","v":96.31},{"d":"2017-08-01","s":"CHF","v":95.98},{"d":"2017-08-02","s":"CHF","v":96.15},{"d":"2017-08-03","s":"CHF","v":95.57},{"d":"2017-08-05","s":"CHF","v":95.82},{"d":"2017-08-08","s":"CHF","v":95.64},{"d":"2017-08-09","s":"CHF","v":96.68},{"d":"2017-08-11","s":"CHF","v":96.93},{"d":"2017-08-12","s":"CHF","v":96.5},{"d":"2017-08-15","s":"CHF","v":95.77},{"d":"2017-08-16","s":"CHF","v":96.2},{"d":"2017-08-18","s":"CHF","v":97.17},{"d":"2017-08-19","s":"CHF","v":96.71},{"d":"2017-08-22","s":"CHF","v":96.61},{"d":"2017-08-24","s":"CHF","v":96.36},{"d":"2017-08-25","s":"CHF","v":96.59},{"d":"2017-08-29","s":"CHF","v":96.78},{"d":"2017-08-30","s":"CHF","v":96.29},{"d":"2017-08-31","s":"CHF","v":96.18},{"d":"2017-09-01","s":"CHF","v":96.34},{"d":"2017-09-02","s":"CHF","v":96.08},{"d":"2017-09-05","s":"CHF","v":96.73},{"d":"2017-09-06","s":"CHF","v":96.68},{"d":"2017-09-07","s":"CHF","v":96.47},{"d":"2017-09-08","s":"CHF","v":96.63},{"d":"2017-09-09","s":"CHF","v":96.96},{"d":"2017-09-12","s":"CHF","v":96.24},{"d":"2017-09-13","s":"CHF","v":95.74},{"d":"2017-09-14","s":"CHF","v":95.95},{"d":"2017-09-15","s":"CHF","v":95.66},{"d":"2017-09-16","s":"CHF","v":95.83},{"d":"2017-09-19","s":"CHF","v":95.66},{"d":"2017-09-21","s":"CHF","v":95.17},{"d":"2017-09-23","s":"CHF","v":95.04},{"d":"2017-09-26","s":"CHF","v":95.81},{"d":"2017-09-28","s":"CHF","v":95.88},{"d":"2017-09-29","s":"CHF","v":95.82},{"d":"2017-09-30","s":"CHF","v":96.0}
],"edge":[{"k":"right"}]},
"layer":[
{"data":{"name":"series"},
 "mark":{"type":"line","strokeWidth":5,"strokeJoin":"round","strokeCap":"round"},
 "encoding":{
  "x":{"field":"d","type":"temporal","title":null,
   "scale":{"type":"utc","domain":[{"year":2016,"month":11,"date":1,"utc":true},{"year":2017,"month":9,"date":30,"utc":true}]},
   "axis":{"values":[{"year":2016,"month":11,"date":1,"utc":true},{"year":2016,"month":12,"date":1,"utc":true},{"year":2017,"month":1,"date":1,"utc":true},{"year":2017,"month":2,"date":1,"utc":true},{"year":2017,"month":3,"date":1,"utc":true},{"year":2017,"month":4,"date":1,"utc":true},{"year":2017,"month":5,"date":1,"utc":true},{"year":2017,"month":6,"date":1,"utc":true},{"year":2017,"month":7,"date":1,"utc":true},{"year":2017,"month":8,"date":1,"utc":true},{"year":2017,"month":9,"date":1,"utc":true}],
    "labelExpr":"['janv.','févr.','mars','avr.','mai','juin','juil.','août','sept.','oct.','nov.','déc.'][utcmonth(datum.value)] + ' ' + utcFormat(datum.value, '%y')",
    "grid":false,"ticks":true,"tickSize":8,"tickColor":"#808080","tickWidth":1.5,
    "domainColor":"#808080","domainWidth":1.5,
    "labelFont":"Liberation Sans","labelFontSize":31,"labelColor":"#000000","labelPadding":13,
    "labelAngle":0,"labelAlign":"center","labelFlush":false,"labelOverlap":false,"labelBound":false}},
  "y":{"field":"v","type":"quantitative","title":null,
   "scale":{"domain":[94,107],"nice":false,"zero":false},
   "axis":{"values":[94,95,96,97,98,99,100,101,102,103,104,105,106,107],
    "ticks":false,"grid":true,"gridDash":[3,2],"gridColor":"#404040","gridWidth":1,
    "domainColor":"#808080","domainWidth":1.5,
    "labelFont":"Liberation Sans","labelFontSize":31,"labelColor":"#000000","labelPadding":29}},
  "color":{"field":"s","type":"nominal",
   "scale":{"domain":["EUR","USD","CHF"],"range":["#922833","#3E5676","#6B9A36"]},
   "legend":{"orient":"none","legendX":-63,"legendY":771,"direction":"horizontal","columns":3,"title":null,
    "symbolType":"stroke","symbolStrokeWidth":7,"symbolSize":2916,
    "labelFont":"Liberation Sans","labelFontSize":31.5,"labelColor":"#000000","labelOffset":9,"labelLimit":1000,
    "columnPadding":18,"padding":0,
    "labelExpr":"datum.value == 'EUR' ? 'EUR pond. par le comm. ext. (hors CHF)' : datum.value == 'USD' ? 'USD pond. par le comm. ext. (hors CHF)' : 'CHF pondéré par le commerce extérieur'"}}
 }},
{"data":{"name":"edge"},
 "mark":{"type":"rule","color":"#8c8c8c","strokeWidth":1.5},
 "encoding":{"x":{"datum":{"year":2017,"month":9,"date":30,"utc":true},"type":"temporal"}}}
]
}
